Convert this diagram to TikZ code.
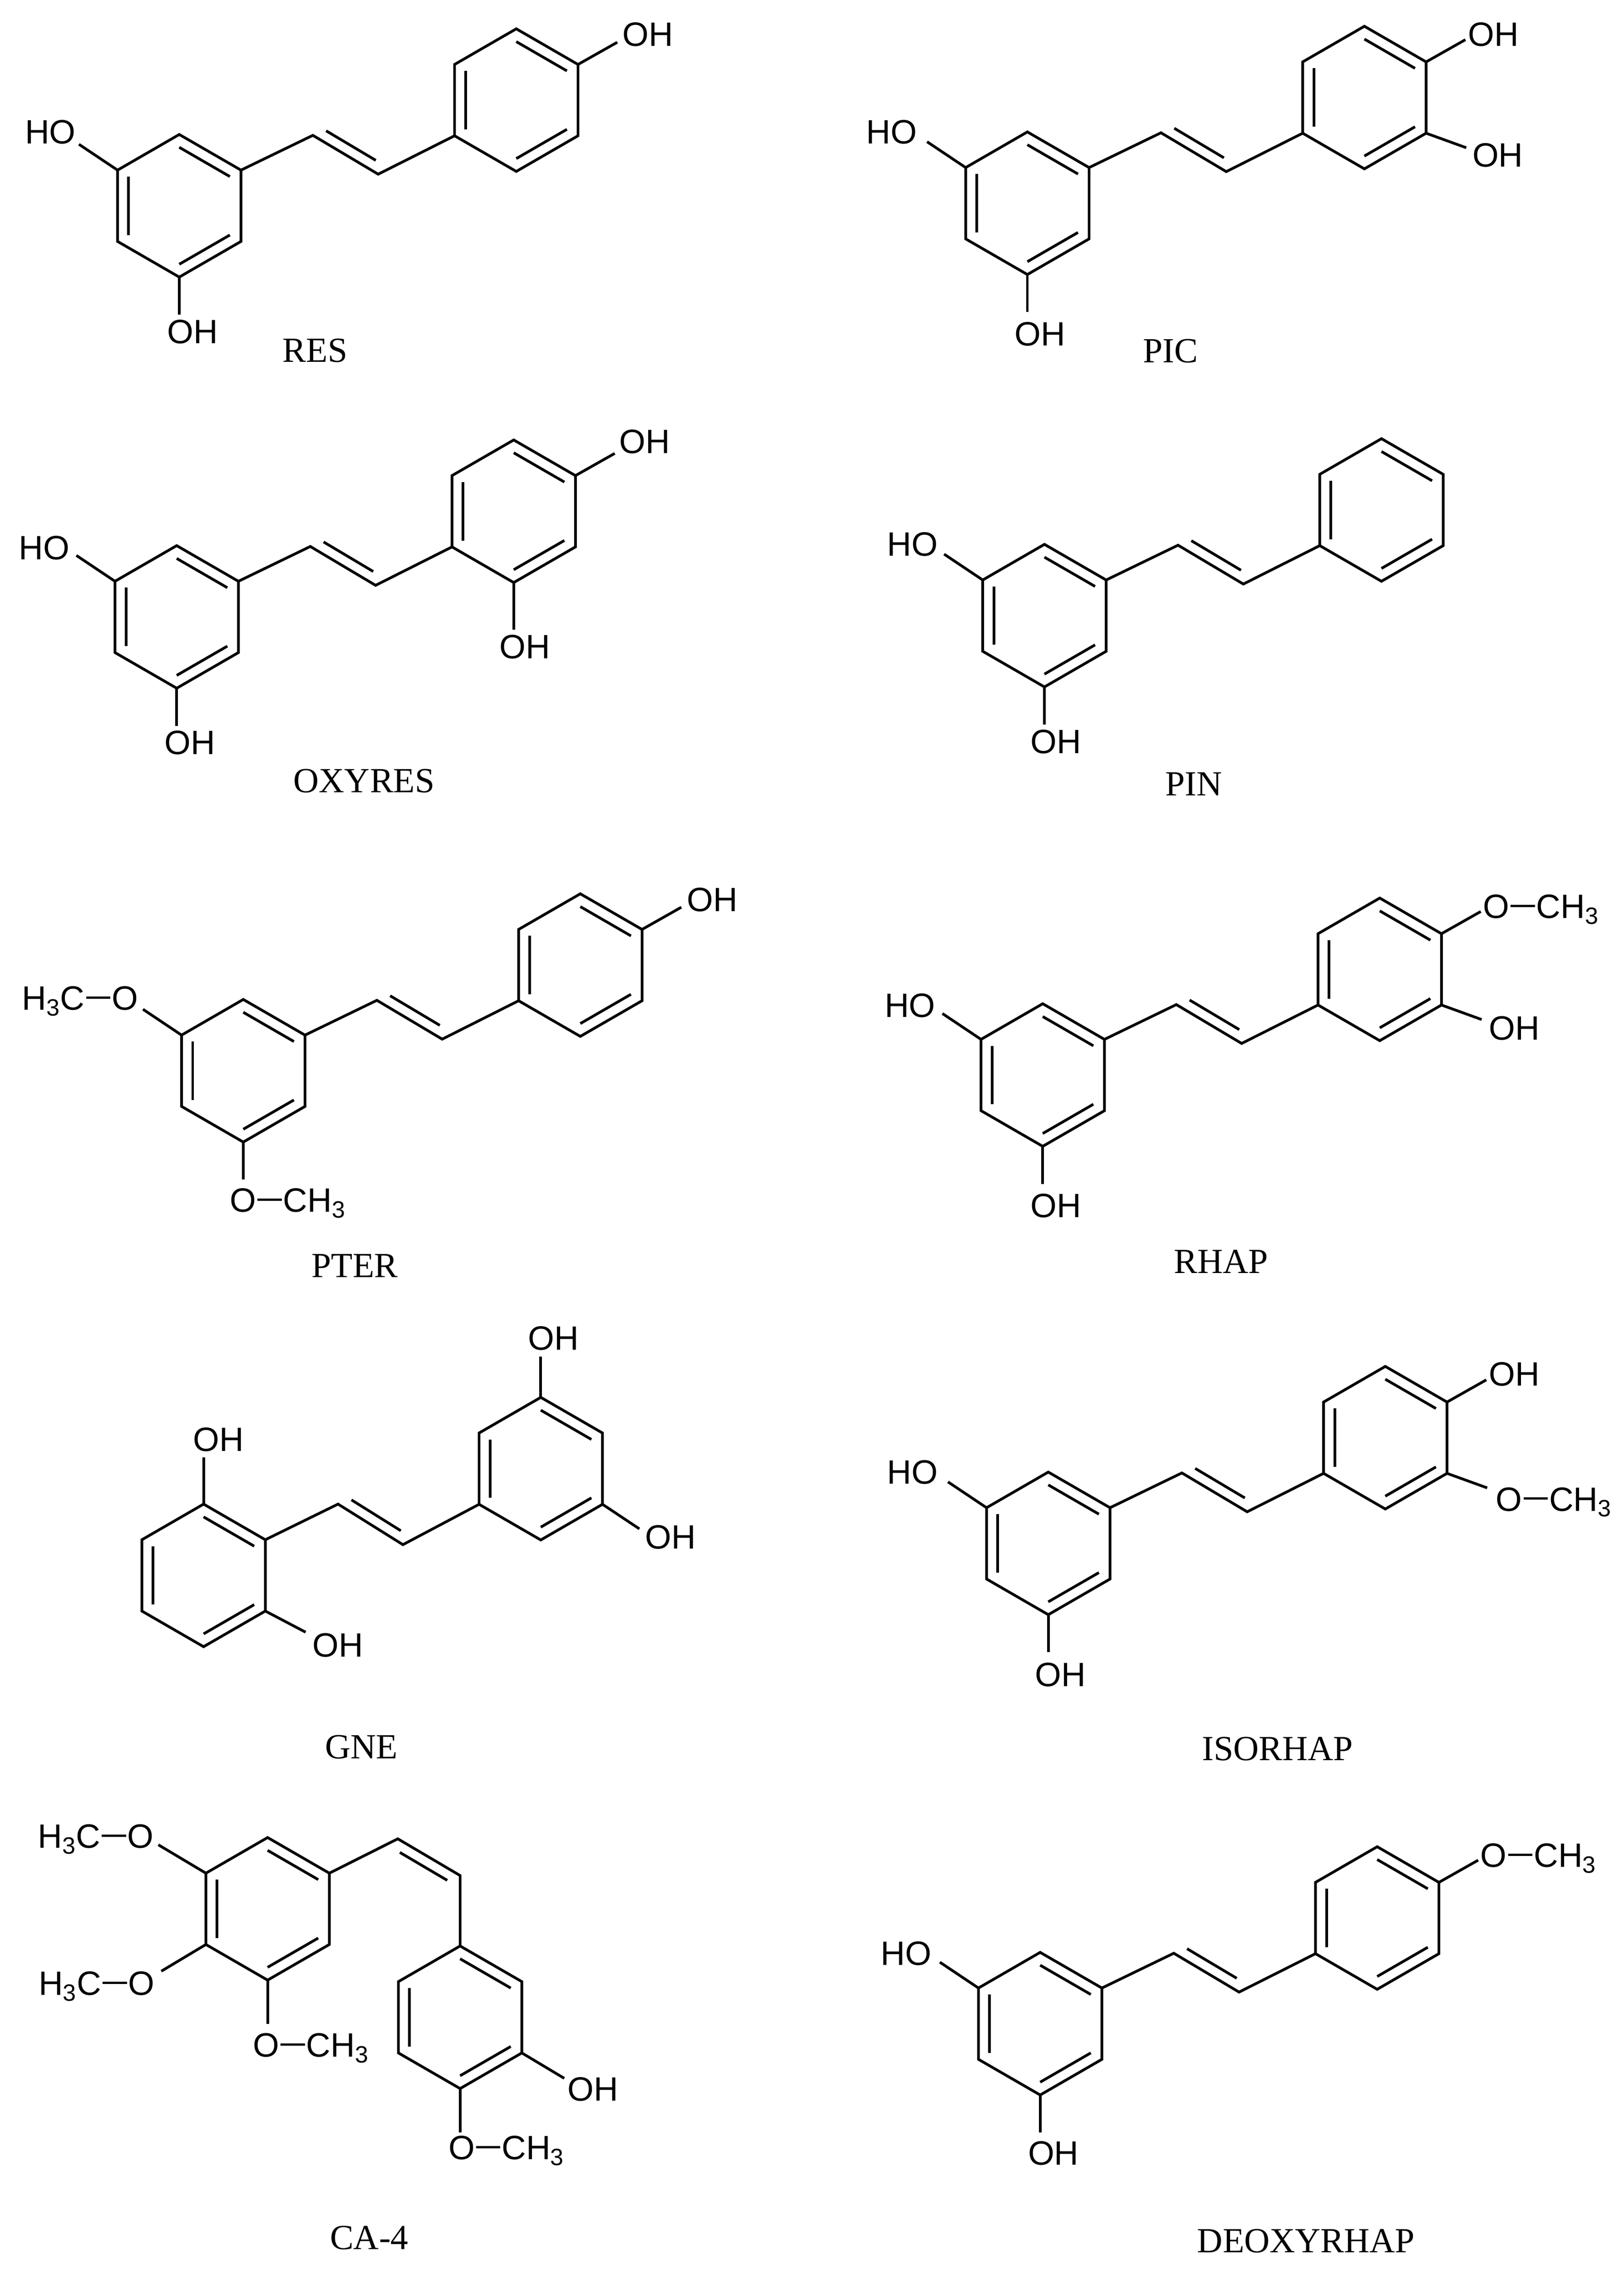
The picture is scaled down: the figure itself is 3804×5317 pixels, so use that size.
\documentclass[tikz,border=0pt]{standalone}
\usepackage{fontspec}
\setmainfont{Liberation Serif}
\newfontfamily\atomfont{Liberation Sans}
\usetikzlibrary{calc}
\newcommand\BL{167}
\newcommand\BH{144.6}
\newcommand\bd{\kern0.04em\rule[0.33em]{0.72em}{0.07em}\kern0.04em}
\tikzset{
  bond/.style={line width=1.8pt, line join=miter},
  atom/.style={font=\atomfont\fontsize{22.5}{27}\selectfont, inner sep=0pt},
  cname/.style={font=\fontsize{23.5}{28}\selectfont, inner sep=0pt}
}
\newcommand\hexring[3]{%
  \coordinate (#1c) at (#2,#3);
  \coordinate (#1-1) at (#2,#3-\BL);
  \coordinate (#1-2) at (#2+\BH,#3-\BL/2);
  \coordinate (#1-3) at (#2+\BH,#3+\BL/2);
  \coordinate (#1-4) at (#2,#3+\BL);
  \coordinate (#1-5) at (#2-\BH,#3+\BL/2);
  \coordinate (#1-6) at (#2-\BH,#3-\BL/2);
  \draw[bond] (#1-1)--(#1-2)--(#1-3)--(#1-4)--(#1-5)--(#1-6)--cycle;
  \draw[bond] ($(#1c)!0.82!(#1-1)$)--($(#1c)!0.82!(#1-2)$);
  \draw[bond] ($(#1c)!0.82!(#1-3)$)--($(#1c)!0.82!(#1-4)$);
  \draw[bond] ($(#1c)!0.82!(#1-5)$)--($(#1c)!0.82!(#1-6)$);
}
\newcommand\dbl[4]{%
  \path ($(#1)!0.12!(#2)$) coordinate (tmpP) ($(#1)!0.88!(#2)$) coordinate (tmpQ);
  \draw[bond] ($(tmpP)!0.25cm!#3:(#2)$) -- ($(tmpQ)!0.25cm!#4:(#1)$);
}
\newcommand\stil[3]{%
  \hexring{#1A}{#2}{#3+\BL}
  \coordinate (#1v1) at (#2+313,#3+2);
  \coordinate (#1v2) at (#2+466,#3+93);
  \hexring{#1B}{#2+645+\BH}{#3+3-\BL/2}
  \draw[bond] (#1A-2)--(#1v1)--(#1v2)--(#1B-5);
  \dbl{#1v1}{#1v2}{90}{-90}
  \coordinate (#1s1) at (#2-235,#3+23);
  \coordinate (#1s2) at (#2,#3+422);
  \draw[bond] (#1A-6)--(#1s1);
  \draw[bond] (#1A-4)--(#1s2);
}
\newcommand\urbond[1]{\coordinate (#1-2x) at ($(#1-2)+(92,-52)$); \draw[bond] (#1-2)--(#1-2x);}
\newcommand\lrbond[1]{\coordinate (#1-3x) at ($(#1-3)+(94,34)$); \draw[bond] (#1-3)--(#1-3x);}
\begin{document}
\begin{tikzpicture}[x=0.01cm,y=-0.01cm]
\useasboundingbox (0,0) rectangle (3804,5317);
\fill[white] (0,0) rectangle (3804,5317);

% RES
\stil{res}{420}{315}
\urbond{resB}
\node[atom] (resHO) at (118,309) {HO};
\node[atom] (resOH1) at (451,777) {OH};
\node[atom] (resOH2) at (1518,81) {OH};
\node[cname] (resN) at (738,821) {RES};

% PIC
\stil{pic}{2407}{309}
\urbond{picB}\lrbond{picB}
\node[atom] (picHO) at (2089,309) {HO};
\node[atom] (picOH1) at (2437,782) {OH};
\node[atom] (picOH2) at (3499,81) {OH};
\node[atom] (picOH3) at (3509,364) {OH};
\node[cname] (picN) at (2742,822) {PIC};

% OXYRES
\stil{oxy}{414}{1278}
\urbond{oxyB}
\coordinate (oxyB-4x) at ($(oxyB-4)+(0,110)$);
\draw[bond] (oxyB-4)--(oxyB-4x);
\node[atom] (oxyHO) at (104,1283) {HO};
\node[atom] (oxyOH1) at (445,1740) {OH};
\node[atom] (oxyOH2) at (1510,1035) {OH};
\node[atom] (oxyOH3) at (1230,1515) {OH};
\node[cname] (oxyN) at (853,1829) {OXYRES};

% PIN
\stil{pin}{2447}{1275}
\node[atom] (pinHO) at (2138,1275) {HO};
\node[atom] (pinOH1) at (2474,1737) {OH};
\node[cname] (pinN) at (2797,1836) {PIN};

% PTER
\stil{pter}{570}{2341}
\urbond{pterB}
\node[atom,anchor=base east] (pterO1) at (292+32,2337+29) {H\textsubscript{3}C\bd O};
\node[atom,anchor=base west] (pterO2) at (570-32,2810+29) {O\bd CH\textsubscript{3}};
\node[atom] (pterOH) at (1669,2108) {OH};
\node[cname] (pterN) at (831,2965) {PTER};

% RHAP
\stil{rha}{2443}{2351}
\urbond{rhaB}\lrbond{rhaB}
\node[atom] (rhaHO) at (2132,2355) {HO};
\node[atom] (rhaOH1) at (2474,2824) {OH};
\node[atom,anchor=base west] (rhaO) at (3506-32,2122+29) {O\bd CH\textsubscript{3}};
\node[atom] (rhaOH2) at (3548,2408) {OH};
\node[cname] (rhaN) at (2861,2955) {RHAP};

% ISORHAP
\stil{iso}{2456}{3448}
\urbond{isoB}\lrbond{isoB}
\node[atom] (isoHO) at (2138,3448) {HO};
\node[atom] (isoOH1) at (2484,3923) {OH};
\node[atom] (isoOH2) at (3548,3219) {OH};
\node[atom,anchor=base west] (isoO) at (3536-32,3510+29) {O\bd CH\textsubscript{3}};
\node[cname] (isoN) at (2993,4096) {ISORHAP};

% DEOXYRHAP
\stil{deo}{2437}{4573}
\urbond{deoB}
\node[atom] (deoHO) at (2123,4576) {HO};
\node[atom] (deoOH1) at (2468,5044) {OH};
\node[atom,anchor=base west] (deoO) at (3500-32,4344+29) {O\bd CH\textsubscript{3}};
\node[cname] (deoN) at (3060,5249) {DEOXYRHAP};

% GNE
\hexring{gneA}{477}{3690}
\hexring{gneB}{1267}{3440}
\coordinate (gnev1) at (792,3523);
\coordinate (gnev2) at (944,3618);
\draw[bond] (gneA-2)--(gnev1)--(gnev2)--(gneB-5);
\dbl{gnev1}{gnev2}{90}{-90}
\coordinate (gnes1) at (477,3413); \draw[bond] (gneA-1)--(gnes1);
\coordinate (gnes2) at (716,3823); \draw[bond] (gneA-3)--(gnes2);
\coordinate (gnes3) at (1267,3177); \draw[bond] (gneB-1)--(gnes3);
\coordinate (gnes4) at (1498,3581); \draw[bond] (gneB-3)--(gnes4);
\node[atom] (gneOH1) at (512,3372) {OH};
\node[atom] (gneOH2) at (792,3854) {OH};
\node[atom] (gneOH3) at (1297,3135) {OH};
\node[atom] (gneOH4) at (1571,3600) {OH};
\node[cname] (gneN) at (847,4092) {GNE};

% CA-4
\hexring{caA}{627}{4471}
\hexring{caB}{1078}{4725}
\coordinate (cav1) at (932,4307);
\coordinate (cav2) at (1078,4393);
\draw[bond] (caA-2)--(cav1)--(cav2)--(caB-1);
\dbl{cav1}{cav2}{-90}{90}
\coordinate (cas1) at (371,4321); \draw[bond] (caA-6)--(cas1);
\coordinate (cas2) at (378,4617); \draw[bond] (caA-5)--(cas2);
\coordinate (cas3) at (627,4741); \draw[bond] (caA-4)--(cas3);
\coordinate (cas4) at (1322,4868); \draw[bond] (caB-3)--(cas4);
\coordinate (cas5) at (1078,4995); \draw[bond] (caB-4)--(cas5);
\node[atom,anchor=base east] (caO1) at (329+32,4300+29) {H\textsubscript{3}C\bd O};
\node[atom,anchor=base east] (caO2) at (331+32,4644+29) {H\textsubscript{3}C\bd O};
\node[atom,anchor=base west] (caO3) at (624-32,4789+29) {O\bd CH\textsubscript{3}};
\node[atom] (caOH) at (1389,4894) {OH};
\node[atom,anchor=base west] (caO4) at (1082-32,5029+29) {O\bd CH\textsubscript{3}};
\node[cname] (caN) at (865,5242) {CA-4};
\end{tikzpicture}
\end{document}
